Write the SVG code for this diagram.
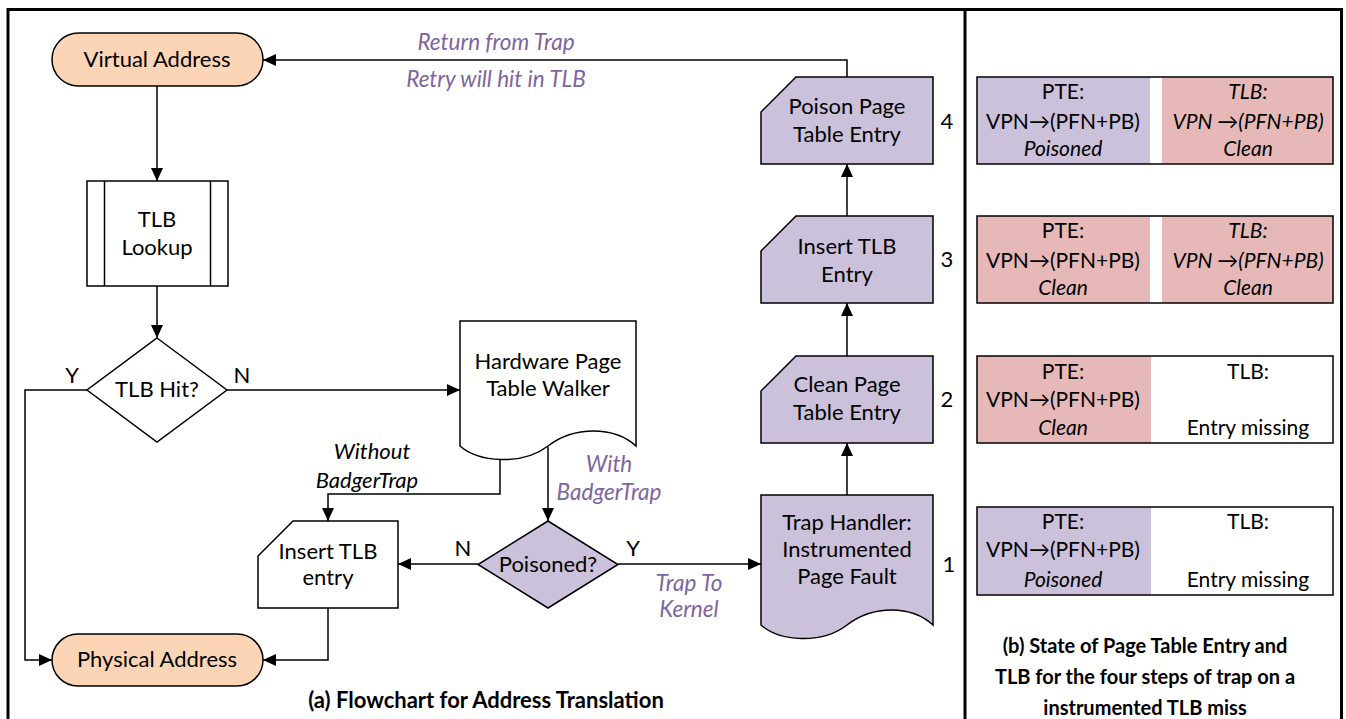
<svg xmlns="http://www.w3.org/2000/svg" width="1346" height="719" viewBox="0 0 1346 719">
  <defs>
    <marker id="arrow" markerUnits="userSpaceOnUse" markerWidth="13" markerHeight="12" refX="13" refY="6" orient="auto">
      <path d="M0,0 L13,6 L0,12 Z" fill="#000"/>
    </marker>
    <style>
      text { font-family: Lato, "Open Sans", "Liberation Sans", sans-serif; font-size: 22px; fill: #000; text-anchor: middle; }
      .it { font-style: italic; }
      .pu { font-style: italic; fill: #8064A2; font-size: 22.5px; }
      .st { font-size: 21px; }
      .cap { font-weight: bold; font-size: 22px; }
      .capb { font-weight: bold; font-size: 20px; }
      .frame { fill: none; stroke: #000; stroke-width: 3; }
      .shape { stroke: #000; stroke-width: 1.5; }
      .white { fill: #fff; }
      .peach { fill: #FBD5B5; }
      .lav { fill: #CCC1DA; }
      .pink { fill: #E6B9B8; }
      .conn path { fill: none; stroke: #000; stroke-width: 1.5; marker-end: url(#arrow); }
      .outline { fill: none; stroke: #000; stroke-width: 1.5; }
    </style>
  </defs>

  <rect width="1346" height="719" fill="#fff"/>

  <!-- panel frame -->
  <g id="frame">
    <path class="frame" d="M8,721 V9.5 H1341.5 V721"/>
    <line class="frame" x1="965" y1="9" x2="965" y2="721"/>
  </g>

  <!-- connectors -->
  <g id="connectors" class="conn">
    <path d="M157,86 V181"/>
    <path d="M157,286 V338"/>
    <path d="M87,390 H25 V660 H52"/>
    <path d="M227,390 H460"/>
    <path d="M500,460 V494 H328 V521"/>
    <path d="M548,447 V521"/>
    <path d="M478,564 H398"/>
    <path d="M618,564 H761"/>
    <path d="M328,608 V660 H263"/>
    <path d="M847,495 V443"/>
    <path d="M847,356 V303"/>
    <path d="M847,216 V164"/>
    <path d="M847,77 V60 H263"/>
  </g>

  <!-- connector labels -->
  <g id="labels">
    <text class="pu" x="496" y="50">Return from Trap</text>
    <text class="pu" x="496" y="87">Retry will hit in TLB</text>
    <text x="72" y="383">Y</text>
    <text x="242" y="383">N</text>
    <text class="it" x="372" y="459">Without</text>
    <text class="it" x="367" y="488">BadgerTrap</text>
    <text class="pu" x="609" y="472">With</text>
    <text class="pu" x="609" y="500">BadgerTrap</text>
    <text x="463" y="556">N</text>
    <text x="633" y="556">Y</text>
    <text class="pu" x="689" y="591">Trap To</text>
    <text class="pu" x="689" y="617">Kernel</text>
  </g>

  <!-- flowchart nodes -->
  <g id="virtual-address">
    <rect class="shape peach" x="52" y="33" width="211" height="53" rx="26.5"/>
    <text x="157" y="67">Virtual Address</text>
  </g>

  <g id="tlb-lookup">
    <rect class="shape white" x="87" y="181" width="141" height="105"/>
    <line class="shape" x1="104.5" y1="181" x2="104.5" y2="286"/>
    <line class="shape" x1="210.5" y1="181" x2="210.5" y2="286"/>
    <text x="157" y="227">TLB</text>
    <text x="157" y="255">Lookup</text>
  </g>

  <g id="tlb-hit">
    <path class="shape white" d="M157,338 L227,390 L157,442 L87,390 Z"/>
    <text x="157" y="397">TLB Hit?</text>
  </g>

  <g id="page-table-walker">
    <path class="shape white" d="M460,321 H636 V446 C614,426 574,426 548,446 C522,466 478,462 460,446 Z"/>
    <text x="548" y="369">Hardware Page</text>
    <text x="548" y="396">Table Walker</text>
  </g>

  <g id="poisoned">
    <path class="shape lav" d="M548,521 L618,564.5 L548,608 L478,564.5 Z"/>
    <text x="548" y="572">Poisoned?</text>
  </g>

  <g id="insert-tlb-entry">
    <path class="shape white" d="M258,556 L293,521 H398 V608 H258 Z"/>
    <text x="328" y="559">Insert TLB</text>
    <text x="328" y="585">entry</text>
  </g>

  <g id="physical-address">
    <rect class="shape peach" x="52" y="634" width="211" height="52" rx="26"/>
    <text x="157" y="667">Physical Address</text>
  </g>

  <g id="trap-handler">
    <path class="shape lav" d="M761,495 H933 V625 C911,605 873,605 847,625 C821,645 779,641 761,625 Z"/>
    <text x="847" y="530">Trap Handler:</text>
    <text x="847" y="557">Instrumented</text>
    <text x="847" y="584">Page Fault</text>
    <text x="949" y="572">1</text>
  </g>

  <g id="clean-pte">
    <path class="shape lav" d="M761,391 L796,356 H933 V443 H761 Z"/>
    <text x="847" y="392">Clean Page</text>
    <text x="847" y="420">Table Entry</text>
    <text x="947" y="407">2</text>
  </g>

  <g id="insert-tlb-step">
    <path class="shape lav" d="M761,251 L796,216 H933 V303 H761 Z"/>
    <text x="847" y="254">Insert TLB</text>
    <text x="847" y="282">Entry</text>
    <text x="947" y="267">3</text>
  </g>

  <g id="poison-pte">
    <path class="shape lav" d="M761,112 L796,77 H933 V164 H761 Z"/>
    <text x="847" y="114">Poison Page</text>
    <text x="847" y="142">Table Entry</text>
    <text x="947" y="129">4</text>
  </g>

  <text class="cap" x="486" y="708">(a) Flowchart for Address Translation</text>

  <!-- state panels, step 4 at the top down to step 1 -->
  <g id="state-4" class="st">
    <rect class="lav" x="977" y="77" width="173" height="87"/>
    <rect class="pink" x="1162" y="77" width="171" height="87"/>
    <rect class="outline" x="977" y="77" width="356" height="87"/>
    <text class="st" x="1063" y="99">PTE:</text>
    <text class="st" x="1063" y="129">VPN→(PFN+PB)</text>
    <text class="st it" x="1063" y="156">Poisoned</text>
    <text class="st it" x="1248" y="99">TLB:</text>
    <text class="st it" x="1248" y="129">VPN →(PFN+PB)</text>
    <text class="st it" x="1248" y="156">Clean</text>
  </g>

  <g id="state-3">
    <rect class="pink" x="977" y="216" width="173" height="87"/>
    <rect class="pink" x="1162" y="216" width="171" height="87"/>
    <rect class="outline" x="977" y="216" width="356" height="87"/>
    <text class="st" x="1063" y="238">PTE:</text>
    <text class="st" x="1063" y="268">VPN→(PFN+PB)</text>
    <text class="st it" x="1063" y="295">Clean</text>
    <text class="st it" x="1248" y="238">TLB:</text>
    <text class="st it" x="1248" y="268">VPN →(PFN+PB)</text>
    <text class="st it" x="1248" y="295">Clean</text>
  </g>

  <g id="state-2">
    <rect class="pink" x="977" y="356" width="174" height="87"/>
    <rect class="outline" x="977" y="356" width="356" height="87"/>
    <text class="st" x="1063" y="379">PTE:</text>
    <text class="st" x="1063" y="407">VPN→(PFN+PB)</text>
    <text class="st it" x="1063" y="435">Clean</text>
    <text class="st" x="1248" y="379">TLB:</text>
    <text class="st" x="1248" y="435">Entry missing</text>
  </g>

  <g id="state-1">
    <rect class="lav" x="977" y="507" width="174" height="88"/>
    <rect class="outline" x="977" y="507" width="356" height="88"/>
    <text class="st" x="1063" y="529">PTE:</text>
    <text class="st" x="1063" y="557">VPN→(PFN+PB)</text>
    <text class="st it" x="1063" y="587">Poisoned</text>
    <text class="st" x="1248" y="529">TLB:</text>
    <text class="st" x="1248" y="587">Entry missing</text>
  </g>

  <g id="caption-b">
    <text class="capb" x="1145" y="653">(b) State of Page Table Entry and</text>
    <text class="capb" x="1145" y="684">TLB for the four steps of trap on a</text>
    <text class="capb" x="1145" y="715">instrumented TLB miss</text>
  </g>
</svg>
